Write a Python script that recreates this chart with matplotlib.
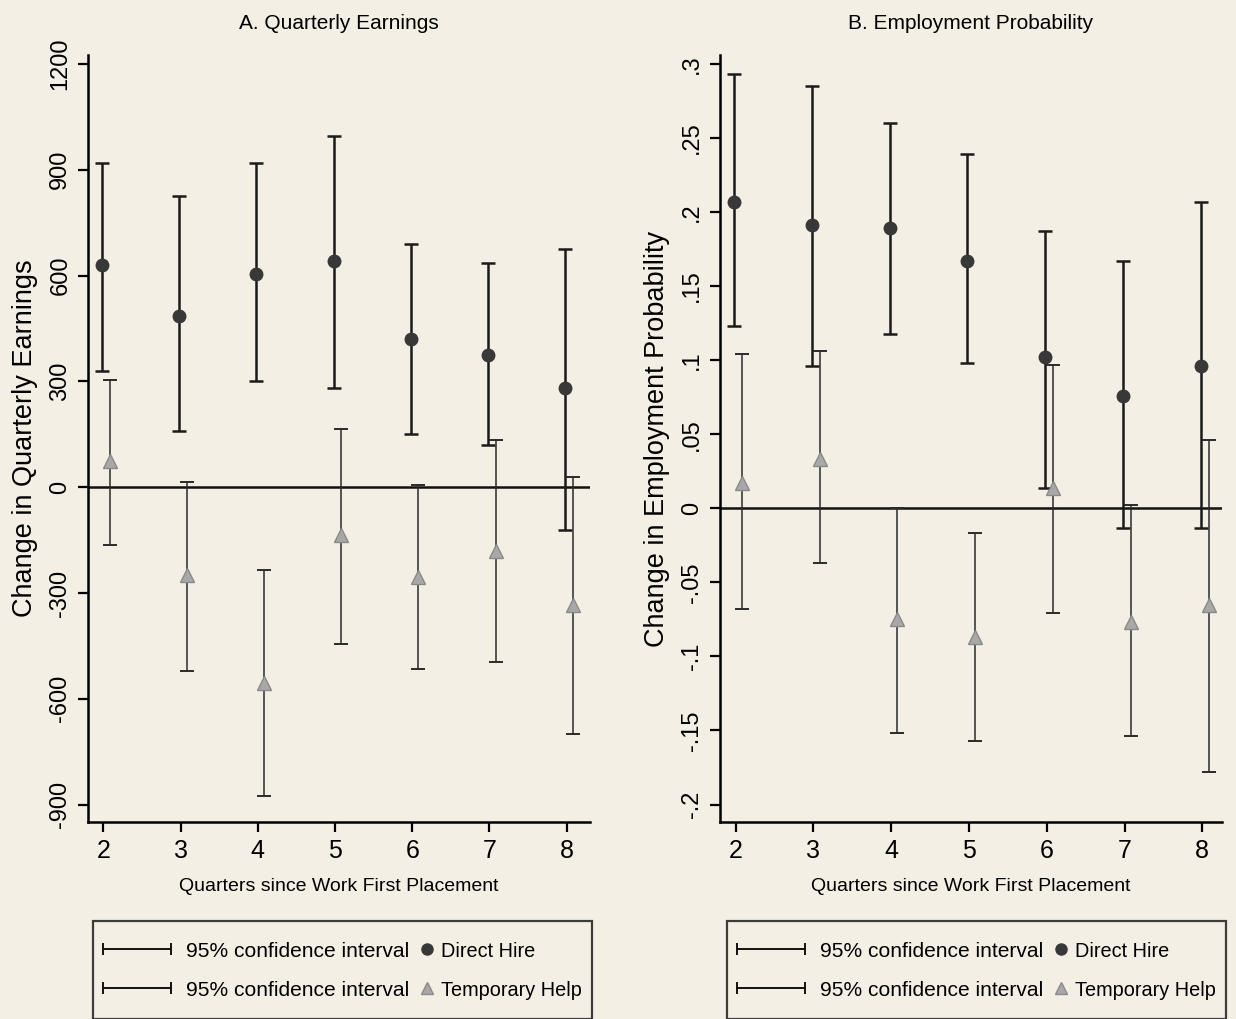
import matplotlib.pyplot as plt
from matplotlib.lines import Line2D
from matplotlib.legend_handler import HandlerBase

# quarters since placement
quarters = [2, 3, 4, 5, 6, 7, 8]

# A. quarterly earnings
earn_dh = [630, 485, 605, 640, 420, 375, 280]
earn_dh_lo = [330, 160, 300, 280, 150, 120, -120]
earn_dh_hi = [920, 825, 920, 995, 690, 635, 675]
earn_th = [75, -250, -555, -135, -255, -180, -335]
earn_th_lo = [-165, -520, -875, -445, -515, -495, -700]
earn_th_hi = [305, 15, -235, 165, 5, 135, 30]

# B. employment probability
emp_dh = [0.207, 0.191, 0.189, 0.167, 0.102, 0.076, 0.096]
emp_dh_lo = [0.123, 0.096, 0.118, 0.098, 0.014, -0.013, -0.013]
emp_dh_hi = [0.293, 0.285, 0.260, 0.239, 0.187, 0.167, 0.207]
emp_th = [0.017, 0.033, -0.075, -0.087, 0.014, -0.077, -0.065]
emp_th_lo = [-0.068, -0.037, -0.152, -0.157, -0.071, -0.154, -0.178]
emp_th_hi = [0.104, 0.106, 0.0, -0.017, 0.097, 0.002, 0.046]

earn_ticks = [-900, -600, -300, 0, 300, 600, 900, 1200]
emp_ticks = [-0.2, -0.15, -0.1, -0.05, 0, 0.05, 0.1, 0.15, 0.2, 0.25, 0.3]
emp_tick_labels = ["-.2", "-.15", "-.1", "-.05", "0", ".05", ".1", ".15", ".2", ".25", ".3"]

plt.rcParams["font.family"] = ["Liberation Sans", "DejaVu Sans"]

bg = "#f4efe4"
dh_col = "#383838"
th_col = "#a8a8a8"
fig = plt.figure(figsize=(12.36, 10.19), dpi=100, facecolor=bg)


class CIHandler(HandlerBase):
    # horizontal line with end ticks, spanning the whole handle box
    def create_artists(self, legend, orig, xdescent, ydescent, width, height, fontsize, trans):
        y = 0.36 * fontsize
        ln = Line2D([-xdescent, -xdescent + width], [y, y], color=orig.get_color(),
                    lw=orig.get_linewidth(), marker="|", ms=9, mew=1.4)
        ln.set_transform(trans)
        return [ln]


class RightMarker(HandlerBase):
    # marker placed at the right end of the handle box, close to its text
    def create_artists(self, legend, orig, xdescent, ydescent, width, height, fontsize, trans):
        m = Line2D([-xdescent + width + 1], [0.36 * fontsize], ls="none",
                   marker=orig.get_marker(), color=orig.get_color(),
                   mec=orig.get_markeredgecolor(), ms=orig.get_markersize())
        m.set_transform(trans)
        return [m]


def panel(rect, title, ylab, dh, dlo, dhi, th, tlo, thi, ylim, xlim, yticks, ylabels, leg_x):
    ax = fig.add_axes(rect)
    ax.set_facecolor(bg)
    xd = [q - 0.02 for q in quarters]
    xt = [q + 0.08 for q in quarters]
    ax.axhline(0, color="#111111", lw=1.8, zorder=1)
    ax.errorbar(xd, dh, yerr=[[a - b for a, b in zip(dh, dlo)], [b - a for a, b in zip(dh, dhi)]],
                fmt="none", ecolor="#1a1a1a", elinewidth=1.8, capsize=5, capthick=1.8, zorder=2)
    ax.errorbar(xt, th, yerr=[[a - b for a, b in zip(th, tlo)], [b - a for a, b in zip(th, thi)]],
                fmt="none", ecolor="#2a2a2a", elinewidth=1.1, capsize=5, capthick=1.4, zorder=2)
    ax.plot(xd, dh, "o", color=dh_col, ms=9, zorder=3)
    ax.plot(xt, th, "^", color=th_col, mec="#8a8a8a", ms=10, zorder=3)
    ax.set_xlim(xlim)
    ax.set_ylim(ylim)
    ax.spines["top"].set_visible(False)
    ax.spines["right"].set_visible(False)
    ax.spines["left"].set_linewidth(1.8)
    ax.spines["bottom"].set_linewidth(1.8)
    ax.set_xticks(quarters)
    ax.set_xticklabels([str(q) for q in quarters], fontsize=18)
    ax.set_yticks(yticks)
    ax.set_yticklabels(ylabels, fontsize=17, rotation=90, va="center")
    ax.tick_params(length=7, width=1.6, pad=5)
    ax.set_title(title, fontsize=15, pad=19)
    ax.set_xlabel("Quarters since Work First Placement", fontsize=14, labelpad=11)
    ax.set_ylabel(ylab, fontsize=19.5, labelpad=8)

    ci = Line2D([0, 1], [0, 0], color="#111111", lw=1.4)
    ci2 = Line2D([0, 1], [0, 0], color="#111111", lw=1.4)
    dhh = Line2D([0], [0], ls="none", marker="o", color=dh_col, mec=dh_col, ms=8)
    thh = Line2D([0], [0], ls="none", marker="^", color=th_col, mec="#8a8a8a", ms=8)
    leg = fig.legend([ci, ci2, dhh, thh],
                     ["95% confidence interval", "95% confidence interval", "Direct Hire", "Temporary Help"],
                     ncol=2, loc="upper left", bbox_to_anchor=(leg_x, 1 - 921 / 1019),
                     bbox_transform=fig.transFigure,
                     handler_map={ci: CIHandler(), ci2: CIHandler(),
                                  dhh: RightMarker(), thh: RightMarker()},
                     fontsize=15.1, frameon=True, fancybox=False,
                     edgecolor="#111111", facecolor=bg, handlelength=3.25, handleheight=2.5,
                     handletextpad=0.72, columnspacing=-2.45, borderpad=0.46, labelspacing=0.0,
                     borderaxespad=0)
    for t in leg.get_texts()[2:]:
        t.set_fontsize(14.3)
    leg.get_frame().set_linewidth(1.6)
    return ax


panel([0.0712, 0.193, 0.406, 0.753], "A. Quarterly Earnings", "Change in Quarterly Earnings",
      earn_dh, earn_dh_lo, earn_dh_hi, earn_th, earn_th_lo, earn_th_hi,
      (-950, 1225), (1.8, 8.3), earn_ticks, [str(t) for t in earn_ticks], 93 / 1236)
panel([0.5825, 0.193, 0.406, 0.753], "B. Employment Probability", "Change in Employment Probability",
      emp_dh, emp_dh_lo, emp_dh_hi, emp_th, emp_th_lo, emp_th_hi,
      (-0.212, 0.306), (1.8, 8.25), emp_ticks, emp_tick_labels, 727 / 1236)

fig.savefig("out.png", dpi=100, facecolor=bg)
